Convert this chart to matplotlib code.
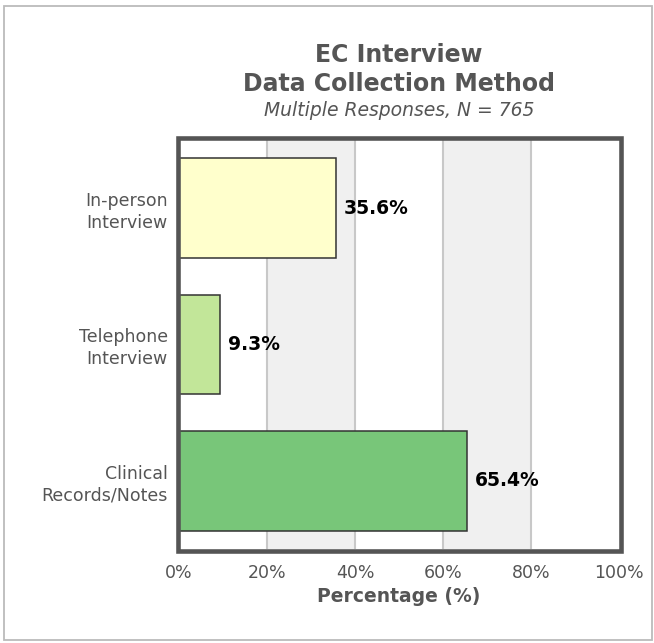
import matplotlib
matplotlib.use("Agg")
import matplotlib.pyplot as plt
from matplotlib.patches import Rectangle

plt.rcParams["font.family"] = ["DejaVu Sans"]

categories = ["In-person\nInterview", "Telephone\nInterview", "Clinical\nRecords/Notes"]
values = [35.6, 9.3, 65.4]
colors = ["#ffffcc", "#c2e699", "#78c679"]
xticks = [0, 20, 40, 60, 80, 100]
xtick_labels = ["0%", "20%", "40%", "60%", "80%", "100%"]

W, H = 654, 643
GREY = "#555555"
fig = plt.figure(figsize=(W/100, H/100), dpi=100)
L, R, T, B = 179, 619, 140, 549
ax = fig.add_axes([L/W, 1-B/H, (R-L)/W, (B-T)/H])

for i, x0 in enumerate(xticks[:-1]):
    if i % 2 == 1:
        ax.axvspan(x0, x0+20, color="#f0f0f0", zorder=0, lw=0)
for x in xticks[1:-1]:
    ax.axvline(x, color="#c8c8c8", lw=1.5, zorder=1)

ypos = list(range(len(categories)))
ax.barh(ypos, values, height=0.73, color=colors, edgecolor="#333333", linewidth=1.1, zorder=3)
for y, v in zip(ypos, values):
    ax.annotate(f"{v}%", (v, y), xytext=(5.5, 0), textcoords="offset points",
                va="center", ha="left", fontsize=13.5, fontweight="bold", color="black", zorder=4)

ax.set_xlim(0, 100)
ax.set_ylim(2.5, -0.5)
ax.set_yticks(ypos)
ax.set_yticklabels(categories, fontsize=12.5, color=GREY)
for t in ax.get_yticklabels():
    t.set_linespacing(1.25)
ax.set_xticks(xticks)
ax.set_xticklabels(xtick_labels, fontsize=12.5, color=GREY)
ax.tick_params(axis="x", length=0, pad=11)
ax.tick_params(axis="y", length=0, pad=8)
for s in ax.spines.values():
    s.set_visible(False)

ax.set_xlabel("Percentage (%)", fontsize=13.5, fontweight="bold", color=GREY)
ax.xaxis.label.set_va("baseline")
ax.xaxis.set_label_coords(0.5, (B - 601.5) / (B - T))

# axes frame drawn outside the plotting area
fig.add_artist(Rectangle((177.5/W, 1-551/H), (620.5-177.5)/W, (551-137.5)/H,
                         transform=fig.transFigure, fill=False, edgecolor=GREY,
                         lw=3.3, joinstyle="miter", zorder=10))

cx = (L + R) / 2 / W
fig.text(cx, 1-61.7/H, "EC Interview", ha="center", va="baseline",
         fontsize=17, fontweight="bold", color=GREY)
fig.text(cx, 1-91/H, "Data Collection Method", ha="center", va="baseline",
         fontsize=17, fontweight="bold", color=GREY)
fig.text(cx, 1-116.5/H, "Multiple Responses, N = 765", ha="center", va="baseline",
         fontsize=13.5, style="italic", color=GREY)

fig.add_artist(Rectangle((3.5/W, 1-640/H), 648/W, 634.5/H, transform=fig.transFigure,
                         fill=False, edgecolor="#bbbbbb", lw=1.3))
fig.savefig("out.png", dpi=100, facecolor="white")
